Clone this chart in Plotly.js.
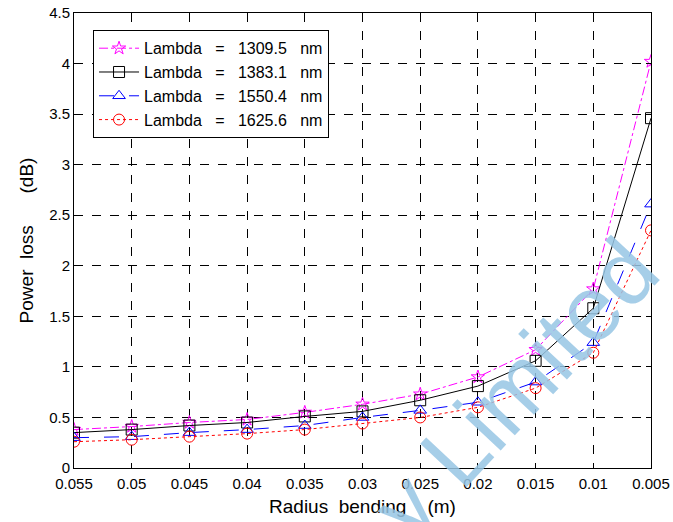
<!DOCTYPE html>
<html><head><meta charset="utf-8">
<script src="https://cdn.plot.ly/plotly-3.0.1.min.js"></script>
<style>body{margin:0;background:#fff}#c{width:673px;height:522px}</style>
</head><body><div id="c"></div>
<script>
const radius = [0.055, 0.05, 0.045, 0.04, 0.035, 0.03, 0.025, 0.02, 0.015, 0.01, 0.005];
const loss1309 = [0.38, 0.41, 0.45, 0.48, 0.55, 0.63, 0.73, 0.90, 1.17, 1.77, 4.02];
const loss1383 = [0.35, 0.38, 0.42, 0.45, 0.51, 0.56, 0.67, 0.81, 1.06, 1.58, 3.46];
const loss1550 = [0.30, 0.31, 0.35, 0.38, 0.42, 0.50, 0.57, 0.65, 0.85, 1.24, 2.61];
const loss1625 = [0.26, 0.28, 0.31, 0.34, 0.38, 0.44, 0.50, 0.60, 0.79, 1.14, 2.35];
const names = ['Lambda   =   1309.5   nm', 'Lambda   =   1383.1   nm', 'Lambda   =   1550.4   nm', 'Lambda   =   1625.6   nm'];
const xTicks = [0.055, 0.05, 0.045, 0.04, 0.035, 0.03, 0.025, 0.02, 0.015, 0.01, 0.005];
const xTickText = ['0.055', '0.05', '0.045', '0.04', '0.035', '0.03', '0.025', '0.02', '0.015', '0.01', '0.005'];
const yTicks = [0, 0.5, 1, 1.5, 2, 2.5, 3, 3.5, 4, 4.5];
const yTickText = ['0', '0.5', '1', '1.5', '2', '2.5', '3', '3.5', '4', '4.5'];

const FONT = 'Liberation Sans, Arial, sans-serif';
const nb = s => s.replace(/ /g, '\u00a0');
const mk = (y, name, color, dash, sym, size) => ({
  x: radius, y: y, name: nb(name), type: 'scatter', mode: 'lines+markers',
  line: {color: color, width: 1, dash: dash},
  marker: {symbol: sym, size: size, color: color, line: {color: color, width: 1}}
});
const data = [
  mk(loss1309, names[0], '#ff00ff', 'dashdot', 'star-open', 10),
  mk(loss1383, names[1], '#000000', 'solid', 'square-open', 11),
  mk(loss1550, names[2], '#0000ff', 'longdash', 'triangle-up-open', 11),
  mk(loss1625, names[3], '#ff0000', 'dot', 'circle-open', 11)
];
const axBase = {
  showline: true, linecolor: '#000', linewidth: 1, mirror: 'ticks',
  ticks: 'inside', ticklen: 5, tickcolor: '#000',
  showgrid: true, gridcolor: '#000', gridwidth: 1, griddash: 'dash',
  zeroline: false, tickfont: {family: FONT, size: 15, color: '#000'}
};
const layout = {
  width: 673, height: 522,
  margin: {l: 74, r: 22, t: 13, b: 54},
  paper_bgcolor: '#fff', plot_bgcolor: '#fff',
  showlegend: true,
  legend: {x: 0.033, y: 0.962, xanchor: 'left', yanchor: 'top', bordercolor: '#000', borderwidth: 1,
           bgcolor: '#fff', font: {family: FONT, size: 16, color: '#000'},
           tracegroupgap: 0, itemwidth: 40},
  xaxis: Object.assign({}, axBase, {
    range: [0.055, 0.005], tickmode: 'array', tickvals: xTicks, ticktext: xTickText,
    ticklabelstandoff: 2,
    title: {text: nb('Radius  bending    (m)'), font: {family: FONT, size: 19, color: '#000'}, standoff: 8}
  }),
  yaxis: Object.assign({}, axBase, {
    range: [0, 4.5], tickmode: 'array', tickvals: yTicks, ticktext: yTickText,
    title: {text: nb('Power  loss      (dB)'), font: {family: FONT, size: 19, color: '#000'}, standoff: 10}
  }),
  annotations: [{
    text: 'y Limited', xref: 'paper', yref: 'paper', x: 0.765, y: 0.175,
    xanchor: 'center', yanchor: 'middle', showarrow: false,
    textangle: -47, font: {family: FONT, size: 92, color: 'rgba(150,197,228,0.85)'}
  }]
};
Plotly.newPlot('c', data, layout, {displayModeBar: false, staticPlot: true});
</script></body></html>
